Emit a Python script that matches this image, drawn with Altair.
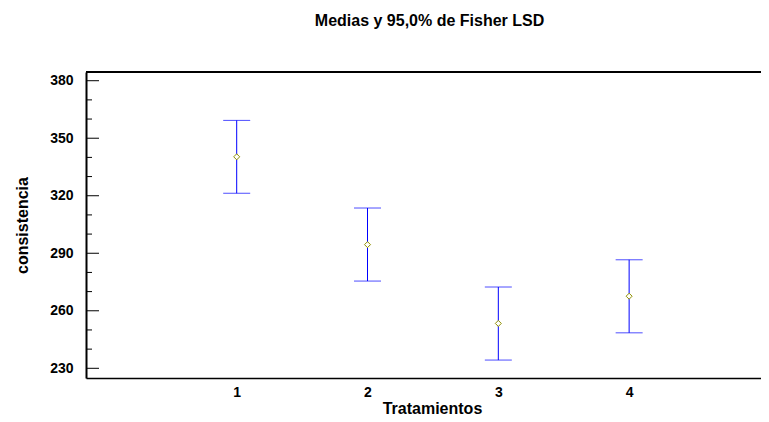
import altair as alt
import pandas as pd

# Data
tratamientos = [1, 2, 3, 4]
medias = [340.3, 294.5, 253.4, 267.6]
limite_inferior = [321.3, 275.5, 234.3, 248.5]
limite_superior = [359.3, 313.6, 272.4, 286.6]
y_major = [230, 260, 290, 320, 350, 380]
y_minor = [240, 250, 270, 280, 300, 310, 330, 340, 360, 370]
x_labels = [1, 2, 3, 4]

W, H = 675, 306
FONT = "Liberation Sans"
xdom = [-0.152, 5.008]
ydom = [224.94, 384.54]

df = pd.DataFrame({
    "t": tratamientos,
    "media": medias,
    "inf": limite_inferior,
    "sup": limite_superior,
})
df_major = pd.DataFrame({"v": y_major})
df_minor = pd.DataFrame({"v": y_minor})

xs = alt.Scale(domain=xdom, nice=False, zero=False)
ys = alt.Scale(domain=ydom, nice=False, zero=False)

x_axis = alt.Axis(
    orient="bottom",
    values=x_labels, format="d", ticks=False, tickSize=0, grid=False,
    domain=True, domainColor="black", domainWidth=1.5,
    labelFont=FONT, labelFontSize=14, labelFontWeight="bold", labelColor="black",
    labelPadding=7, labelFlush=False,
    title="Tratamientos", titleFont=FONT, titleFontSize=16, titleFontWeight="bold",
    titleColor="black", titleX=346, titleY=35, titleBaseline="alphabetic", titleAlign="center",
)
y_axis = alt.Axis(
    orient="left",
    values=y_major, ticks=False, tickSize=0, grid=False,
    domain=True, domainColor="black", domainWidth=2,
    labelFont=FONT, labelFontSize=14, labelFontWeight="bold", labelColor="black",
    labelPadding=13,
    title="consistencia", titleFont=FONT, titleFontSize=16, titleFontWeight="bold",
    titleColor="black", titleX=-64, titleY=153, titleAngle=270,
    titleAlign="center", titleBaseline="middle",
)

X = alt.X("t:Q", scale=xs, axis=x_axis)

base = alt.Chart(df)

bars = base.mark_rule(color="#0000ff", strokeWidth=1).encode(
    x=X,
    y=alt.Y("inf:Q", scale=ys, axis=y_axis),
    y2="sup:Q",
)
cap_lo = base.mark_tick(color="#0000ff", orient="horizontal", size=27, thickness=1).encode(
    x=X,
    y=alt.Y("inf:Q", scale=ys, axis=y_axis),
)
cap_hi = base.mark_tick(color="#0000ff", orient="horizontal", size=27, thickness=1).encode(
    x=X,
    y=alt.Y("sup:Q", scale=ys, axis=y_axis),
)
points = base.mark_point(
    shape="diamond", filled=True, fill="white", stroke="#8f8f00",
    strokeWidth=1, size=36, opacity=1,
).encode(
    x=X,
    y=alt.Y("media:Q", scale=ys, axis=y_axis),
)

major_ticks = alt.Chart(df_major).mark_rule(color="black", strokeWidth=1).encode(
    y=alt.Y("v:Q", scale=ys, axis=y_axis),
    x=alt.value(0), x2=alt.value(13),
)
minor_ticks = alt.Chart(df_minor).mark_rule(color="black", strokeWidth=1).encode(
    y=alt.Y("v:Q", scale=ys, axis=y_axis),
    x=alt.value(0), x2=alt.value(6),
)
top_line = alt.Chart(df_major).mark_rule(color="black", strokeWidth=1.5).encode(
    x=alt.value(0), x2=alt.value(W), y=alt.value(0),
)

chart = alt.layer(
    major_ticks, minor_ticks, bars, cap_lo, cap_hi, points, top_line
).properties(
    width=W, height=H,
    title=alt.Title(
        "Medias y 95,0% de Fisher LSD", font=FONT, fontSize=16, fontWeight="bold",
        color="black", anchor="middle", offset=42, dx=6,
    ),
    autosize=alt.AutoSizeParams(type="none"),
    padding={"left": 78, "top": 64, "right": 0, "bottom": 44},
).resolve_axis(y="shared", x="shared").configure_view(
    stroke="white", strokeWidth=3
).configure(background="white")

chart.save("out.html", embed_options={"renderer": "svg", "actions": False})
